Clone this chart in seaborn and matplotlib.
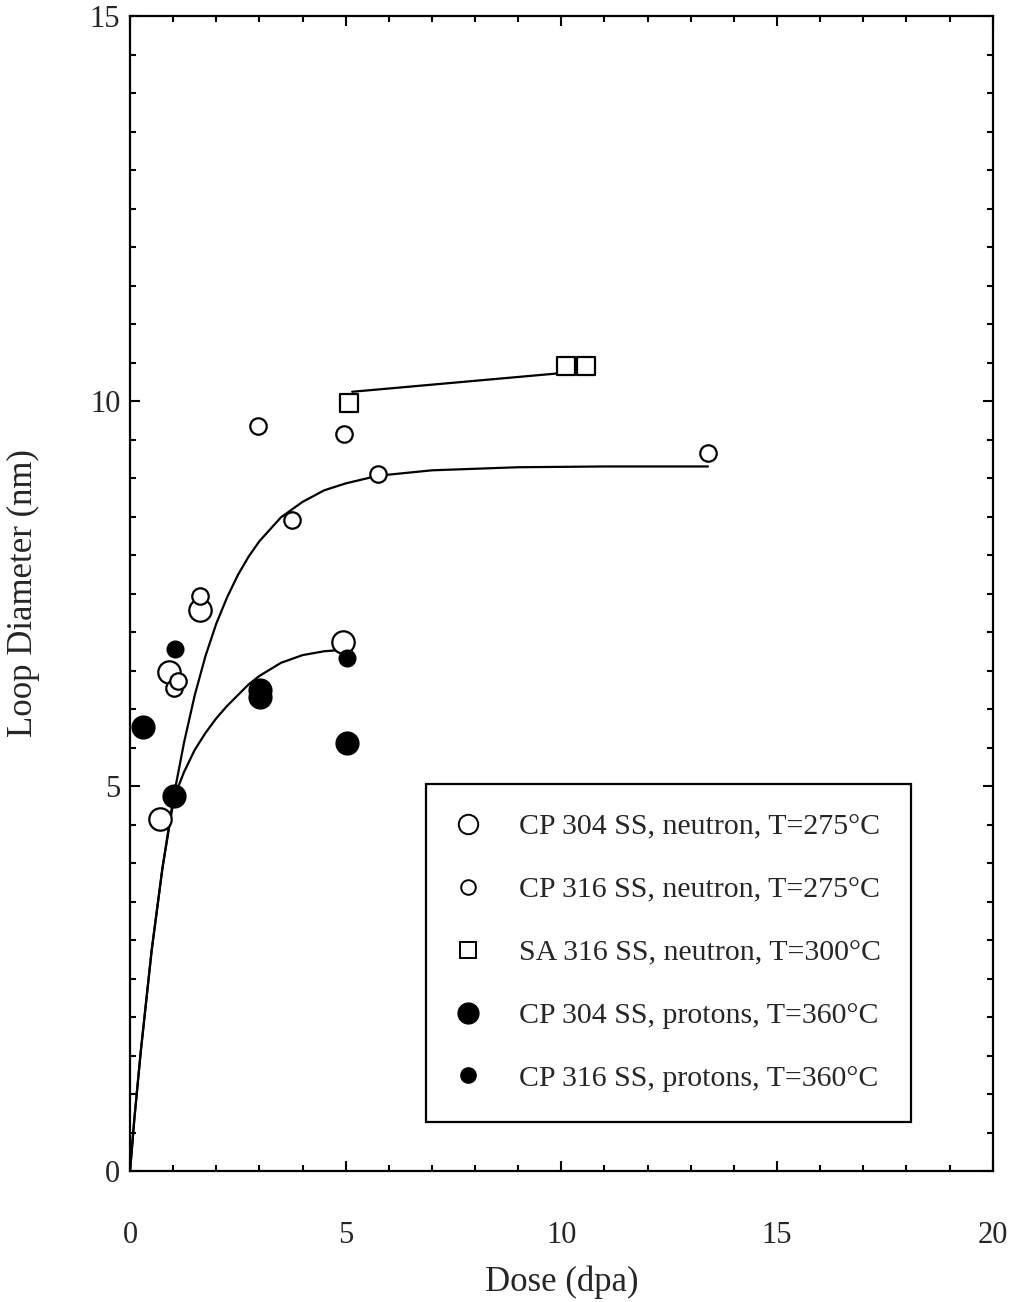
import matplotlib
matplotlib.use("Agg")
import matplotlib.pyplot as plt
import seaborn as sns
import pandas as pd
from matplotlib.lines import Line2D
from matplotlib.ticker import MultipleLocator

# ---------------- data ----------------
cp304_n_x = [0.70, 0.91, 1.62, 4.93]
cp304_n_y = [4.57, 6.48, 7.29, 6.87]

cp316_n_x = [1.02, 1.12, 1.62, 2.97, 3.76, 4.97, 5.74, 13.40]
cp316_n_y = [6.27, 6.37, 7.47, 9.67, 8.46, 9.57, 9.05, 9.33]

sa316_n_x = [5.08, 10.10, 10.58]
sa316_n_y = [9.97, 10.45, 10.45]

cp304_p_x = [0.31, 1.02, 3.01, 3.01, 5.02]
cp304_p_y = [5.77, 4.87, 6.25, 6.16, 5.56]

cp316_p_x = [1.04, 5.04]
cp316_p_y = [6.78, 6.66]

# fit curves
fit_n_x = [0, 0.1, 0.25, 0.4, 0.5, 0.75, 1.0, 1.25, 1.5, 1.75, 2.0, 2.25, 2.5, 2.75, 3.0,
           3.5, 4.0, 4.5, 5.0, 5.75, 7.0, 9.0, 11.0, 13.4]
fit_n_y = [0, 0.68, 1.56, 2.34, 2.86, 3.93, 4.83, 5.56, 6.18, 6.69, 7.11, 7.45, 7.74, 7.98, 8.18,
           8.49, 8.69, 8.84, 8.93, 9.03, 9.10, 9.14, 9.15, 9.15]

fit_p_x = [0, 0.1, 0.25, 0.4, 0.5, 0.75, 1.0, 1.125, 1.25, 1.5, 1.75, 2.0, 2.25, 2.5, 2.75, 3.0,
           3.5, 4.0, 4.5, 4.95]
fit_p_y = [0, 0.68, 1.56, 2.34, 2.86, 3.93, 4.78, 5.0, 5.18, 5.47, 5.69, 5.88, 6.04, 6.18, 6.32, 6.43,
           6.60, 6.70, 6.75, 6.77]

fit_sa_x = [5.15, 10.35]
fit_sa_y = [10.12, 10.38]

labels = ["CP 304 SS, neutron, T=275°C",
          "CP 316 SS, neutron, T=275°C",
          "SA 316 SS, neutron, T=300°C",
          "CP 304 SS, protons, T=360°C",
          "CP 316 SS, protons, T=360°C"]

x_ticks = [0, 5, 10, 15, 20]
y_ticks = [0, 5, 10, 15]

# ---------------- style ----------------
sns.set_style("ticks")
plt.rcParams["font.family"] = ["Liberation Serif", "DejaVu Serif"]

fig = plt.figure(figsize=(10.16, 13.02), dpi=100)
ax = fig.add_axes([0.128, 0.1006, 0.849, 0.8871])

lw_fit = 1.6
line_kw = dict(color="black", linewidth=lw_fit, sort=False, estimator=None, ax=ax, legend=False)
sns.lineplot(x=fit_n_x, y=fit_n_y, **line_kw)
sns.lineplot(x=fit_p_x, y=fit_p_y, **line_kw)
sns.lineplot(x=fit_sa_x, y=fit_sa_y, **line_kw)

ew = 1.6
sns.scatterplot(x=cp304_n_x, y=cp304_n_y, marker="o", s=260, facecolor="white",
                edgecolor="black", linewidth=ew, ax=ax, zorder=3)
sns.scatterplot(x=cp316_n_x, y=cp316_n_y, marker="o", s=140, facecolor="white",
                edgecolor="black", linewidth=ew, ax=ax, zorder=3)
sns.scatterplot(x=sa316_n_x, y=sa316_n_y, marker="s", s=170, facecolor="white",
                edgecolor="black", linewidth=ew, ax=ax, zorder=3)
sns.scatterplot(x=cp304_p_x, y=cp304_p_y, marker="o", s=250, color="black",
                edgecolor="black", linewidth=ew, ax=ax, zorder=3)
sns.scatterplot(x=cp316_p_x, y=cp316_p_y, marker="o", s=130, color="black",
                edgecolor="black", linewidth=ew, ax=ax, zorder=3)

ax.set_xlim(0, 20)
ax.set_ylim(0, 15)
ax.set_xticks(x_ticks)
ax.set_yticks(y_ticks)
ax.xaxis.set_minor_locator(MultipleLocator(1))
ax.yaxis.set_minor_locator(MultipleLocator(0.5))
ax.tick_params(which="both", direction="in", top=True, right=True, width=1.5, color="black")
ax.tick_params(which="major", length=7.5)
ax.tick_params(which="minor", length=4.5)
ax.tick_params(axis="x", which="major", pad=36, labelsize=22)
ax.tick_params(axis="y", which="major", pad=7, labelsize=22)
for sp in ax.spines.values():
    sp.set_visible(True)
    sp.set_linewidth(1.6)
    sp.set_color("black")

ax.set_xlabel("Dose (dpa)", fontsize=25, labelpad=11)
ax.set_ylabel("Loop Diameter (nm)", fontsize=25, labelpad=36)

handles = [
    Line2D([], [], linestyle="none", marker="o", markersize=14, markerfacecolor="white",
           markeredgecolor="black", markeredgewidth=1.4),
    Line2D([], [], linestyle="none", marker="o", markersize=10.5, markerfacecolor="white",
           markeredgecolor="black", markeredgewidth=1.4),
    Line2D([], [], linestyle="none", marker="s", markersize=11, markerfacecolor="white",
           markeredgecolor="black", markeredgewidth=1.4),
    Line2D([], [], linestyle="none", marker="o", markersize=15, markerfacecolor="black",
           markeredgecolor="black"),
    Line2D([], [], linestyle="none", marker="o", markersize=11, markerfacecolor="black",
           markeredgecolor="black"),
]
leg = ax.legend(handles, labels, loc="upper left", bbox_to_anchor=(0.343, 0.335),
                fontsize=21.5, frameon=True, fancybox=False, edgecolor="black",
                framealpha=1, borderpad=1.0, labelspacing=1.2, handletextpad=1.27,
                handlelength=0.85, borderaxespad=0)
leg.get_frame().set_linewidth(1.6)

fig.savefig("out.png", dpi=100)
